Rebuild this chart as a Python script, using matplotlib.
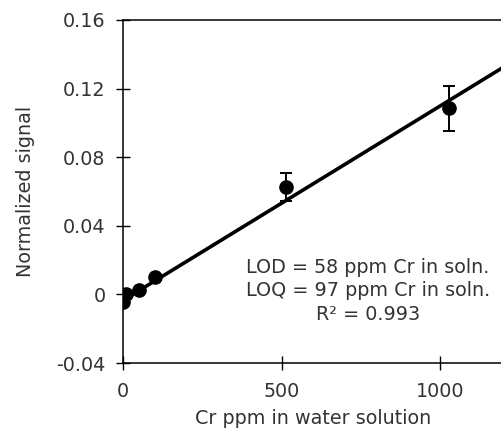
import numpy as np
import matplotlib
matplotlib.use("Agg")
from matplotlib import pyplot as plt

# -------------------- Data --------------------
cr_ppm = [0, 10, 50, 100, 515, 1030]
signal = [-0.0045, 0.0005, 0.0027, 0.0102, 0.0625, 0.1085]
signal_err = [0.0, 0.0, 0.0, 0.0, 0.0080, 0.0130]

fit_slope = 0.0001132
fit_intercept = -0.0034
fit_range = [0, 1200]

y_ticks = [-0.04, 0, 0.04, 0.08, 0.12, 0.16]
y_tick_labels = ["-0.04", "0", "0.04", "0.08", "0.12", "0.16"]
x_ticks = [0, 500, 1000]
x_tick_labels = ["0", "500", "1000"]

annotation = "LOD = 58 ppm Cr in soln.\nLOQ = 97 ppm Cr in soln.\nR² = 0.993"

# -------------------- Plot --------------------
plt.rcParams["font.family"] = ["DejaVu Sans"]
text_color = "#333333"
fsize = 13.8

fig = plt.figure(figsize=(5.02, 4.29), dpi=100)
ax = fig.add_axes([0.2456, 0.1538, 0.7544, 0.7996])

fit_x = np.array(fit_range, dtype=float)
ax.plot(fit_x, fit_slope * fit_x + fit_intercept, color="black", lw=2.6,
        solid_capstyle="butt", zorder=2)

ax.errorbar(cr_ppm, signal, yerr=signal_err, fmt="o", color="black",
            markersize=9.5, elinewidth=1.4, capsize=4.5, capthick=1.4, zorder=3)

ax.set_xlim(0, 1196)
ax.set_ylim(-0.04, 0.16)
ax.set_xticks(x_ticks)
ax.set_xticklabels(x_tick_labels)
ax.set_yticks(y_ticks)
ax.set_yticklabels(y_tick_labels)

ax.spines["right"].set_visible(False)
for side in ["left", "bottom", "top"]:
    ax.spines[side].set_linewidth(1.1)
ax.tick_params(direction="inout", length=9.5, width=1.0, labelsize=fsize,
               colors="black", labelcolor=text_color)
ax.tick_params(axis="y", pad=8)
ax.tick_params(axis="x", pad=9)

ax.set_xlabel("Cr ppm in water solution", fontsize=fsize, color=text_color,
              labelpad=6)
ax.set_ylabel("Normalized signal", fontsize=fsize, color=text_color,
              labelpad=15)

ax.text(0.646, 0.21, annotation, transform=ax.transAxes, ha="center",
        va="center", fontsize=fsize, color=text_color, linespacing=1.3)

fig.savefig("out.png", dpi=100)
